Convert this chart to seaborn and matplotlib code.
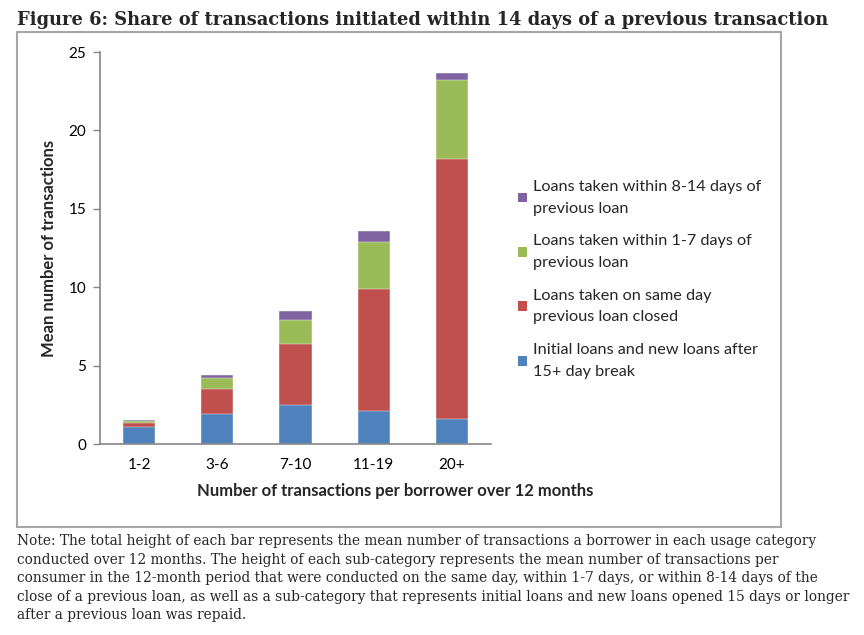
import matplotlib
matplotlib.use("Agg")
import matplotlib.pyplot as plt
import seaborn as sns
import pandas as pd
import numpy as np
from matplotlib.patches import Patch, Rectangle

categories = ["1-2", "3-6", "7-10", "11-19", "20+"]
initial = [1.10, 1.91, 2.47, 2.08, 1.57]
same_day = [0.22, 1.60, 3.91, 7.79, 16.59]
within_1_7 = [0.13, 0.68, 1.53, 2.99, 5.04]
within_8_14 = [0.05, 0.23, 0.57, 0.74, 0.48]

series_labels = [
    "Initial loans and new loans after\n15+ day break",
    "Loans taken on same day\nprevious loan closed",
    "Loans taken within 1-7 days of\nprevious loan",
    "Loans taken within 8-14 days of\nprevious loan",
]
colors = ["#4F81BD", "#C0504D", "#9BBB59", "#8064A2"]

title = "Figure 6: Share of transactions initiated within 14 days of a previous transaction"
note = ("Note: The total height of each bar represents the mean number of transactions a borrower in each usage category\n"
        "conducted over 12 months. The height of each sub-category represents the mean number of transactions per\n"
        "consumer in the 12-month period that were conducted on the same day, within 1-7 days, or within 8-14 days of the\n"
        "close of a previous loan, as well as a sub-category that represents initial loans and new loans opened 15 days or longer\n"
        "after a previous loan was repaid.")

sns.set_theme(style="white")
plt.rcParams['font.family'] = ['Lato', 'DejaVu Sans']

df = pd.DataFrame({
    "category": categories,
    "s0": initial, "s1": same_day, "s2": within_1_7, "s3": within_8_14,
})
cols = ["s0", "s1", "s2", "s3"]
cum = df[cols].cumsum(axis=1)

fig = plt.figure(figsize=(8.64, 6.35), dpi=100)
W, H = 864, 635
ax = fig.add_axes([100 / W, 1 - 444 / H, (491 - 100) / W, (444 - 52) / H])

for i in reversed(range(4)):
    sns.barplot(x=df["category"], y=cum[cols[i]], order=categories, color=colors[i],
                width=0.41, ax=ax, saturation=1, edgecolor="white", linewidth=0.3, zorder=2)

ax.set_xlim(-0.5, 4.5)
ax.set_ylim(0, 25)
ax.set_yticks([0, 5, 10, 15, 20, 25])
ax.set_xticks(range(5))
ax.set_xticklabels(categories)
ax.set_xticks(np.arange(-0.5, 5.0, 1.0), minor=True)
ax.tick_params(axis="x", which="major", length=0, labelsize=11, pad=10, colors="black")
ax.tick_params(axis="x", which="minor", length=5, width=1, color="#868686", direction="out")
ax.tick_params(axis="y", which="major", length=5, width=1, color="#868686", direction="out",
               labelsize=11, pad=5, left=True)
for lab in ax.get_yticklabels() + ax.get_xticklabels():
    lab.set_color("black")
for s in ["top", "right"]:
    ax.spines[s].set_visible(False)
for s in ["left", "bottom"]:
    ax.spines[s].set_color("#868686")
    ax.spines[s].set_linewidth(1.2)
ax.set_xlabel("")
ax.set_ylabel("Mean number of transactions", fontsize=12, fontweight="bold", labelpad=8)

fig.text(395 / W, 1 - 491 / H, "Number of transactions per borrower over 12 months",
         ha="center", va="center", fontsize=12, fontweight="bold")

handles = [Patch(facecolor=colors[i], edgecolor="none") for i in reversed(range(4))]
labels = [series_labels[i] for i in reversed(range(4))]
leg = fig.legend(handles, labels, loc="upper left", bbox_to_anchor=(518 / W, 1 - 180 / H),
                 frameon=False, fontsize=11.7, handlelength=0.55, handleheight=0.55,
                 handletextpad=0.4, labelspacing=1.15, borderaxespad=0, borderpad=0)
for t in leg.get_texts():
    t.set_linespacing(1.7)

# chart frame
fig.patches.append(Rectangle((17 / W, 1 - 527 / H), (781 - 17) / W, (527 - 32) / H,
                             transform=fig.transFigure, fill=False, edgecolor="#a6a6a6",
                             linewidth=1.5, zorder=0))

fig.text(17 / W, 1 - 20 / H, title, ha="left", va="center", fontsize=12.9,
         fontweight="bold", family=["DejaVu Serif"])
fig.text(17 / W, 1 - 534 / H, note, ha="left", va="top", fontsize=9.95,
         family=["DejaVu Serif"], linespacing=1.42)

fig.savefig("out.png", dpi=100)
